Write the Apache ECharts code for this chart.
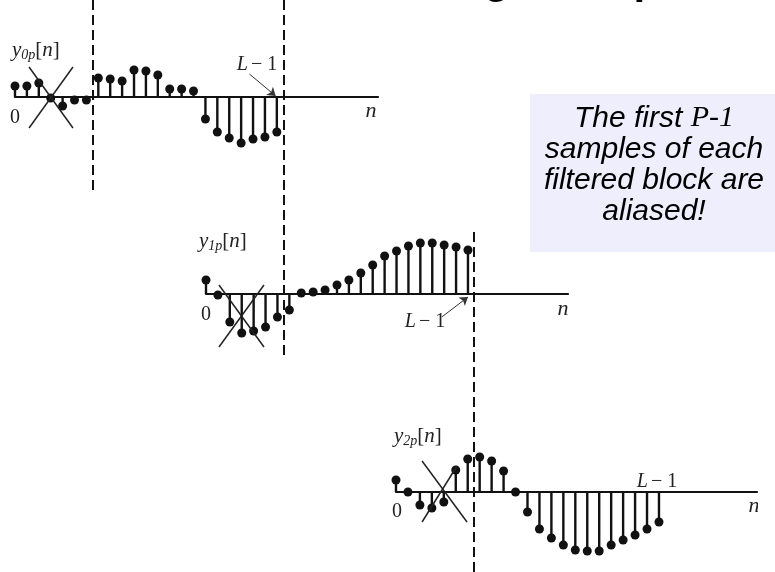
<!DOCTYPE html>
<html>
<head>
<meta charset="utf-8">
<script src="https://cdn.jsdelivr.net/npm/echarts@6/dist/echarts.min.js"></script>
<style>
  html, body { margin: 0; padding: 0; background: #ffffff; }
  #chart { width: 775px; height: 572px; }
</style>
</head>
<body>
<div id="chart"></div>
<script>
// Output blocks of overlap-save filtering, one stem plot per block (n = 0 .. L-1)
const block0 = [11, 11, 14, -1, -9, -3, -3, 19, 18, 16, 27, 26, 22, 8, 8, 6, -22, -35, -41, -46, -42, -40, -35];
const block1 = [14, -1, -28, -39, -37, -33, -23, -16, 1, 2, 4, 9, 14, 21, 29, 38, 43, 48, 51, 51, 49, 47, 44];
const block2 = [12, 0, -13, -16, -10, 22, 33, 35, 31, 21, 0, -20, -37, -46, -53, -58, -59, -59, -53, -48, -43, -37, -30];
const blockNames = ['0p', '1p', '2p'];
const boundaryN = 6.5;     // end of the aliased samples (P-1)

const ink = '#111111';
const serif = '"Liberation Serif", "DejaVu Serif", serif';
const sans = '"Liberation Sans", Arial, sans-serif';

// Layout of the three staggered panels (pixel space of the page)
const panels = [
  { data: block0, left: 15,  width: 363, axisY: 97,  nMax: 30.5, dash: [0, 190],
    cross: [[1.18, 30, 4.87, -31], [1.18, -31, 4.87, 30]], arrow: [19.7, 23, 21.9, 1] },
  { data: block1, left: 206, width: 362, axisY: 294, nMax: 30.4, dash: [0, 360],
    cross: [[1.09, 9, 4.87, -53], [4.87, 9, 1.09, -53]], arrow: [19.8, -23, 22, -3] },
  { data: block2, left: 396, width: 361, axisY: 492, nMax: 30.2, dash: [232, 572],
    cross: [[2.18, 31, 5.94, -30], [2.18, -30, 5.1, 26]], arrow: null }
];
const H = 572;

const grids = [], xAxes = [], yAxes = [], series = [];
panels.forEach((p, i) => {
  grids.push({ left: p.left, width: p.width, top: 0, height: H });
  xAxes.push({
    gridIndex: i, type: 'value', min: 0, max: p.nMax,
    axisLine: { show: true, onZero: true, lineStyle: { color: ink, width: 2.2 } },
    axisTick: { show: false }, axisLabel: { show: false }, splitLine: { show: false }
  });
  // y in pixel-sized units, zero on the panel's baseline
  yAxes.push({ gridIndex: i, type: 'value', min: -(H - p.axisY), max: p.axisY, show: false });

  const pts = p.data.map((v, n) => [n, v]);
  const lines = [
    [{ coord: [boundaryN, p.axisY - p.dash[0]] }, { coord: [boundaryN, p.axisY - p.dash[1]],
      lineStyle: { type: [10, 5], width: 2, color: ink } }]
  ];
  p.cross.forEach(c => {
    lines.push([{ coord: [c[0], c[1]] }, { coord: [c[2], c[3]], lineStyle: { type: 'solid', width: 1.5, color: '#222' } }]);
  });
  series.push({
    type: 'bar', xAxisIndex: i, yAxisIndex: i, data: pts, barWidth: 2.4,
    itemStyle: { color: ink }, silent: true,
    markLine: {
      silent: true, symbol: 'none', label: { show: false },
      lineStyle: { color: ink, width: 2, type: 'solid' },
      data: lines
    }
  });
  if (p.arrow) {
    series.push({
      type: 'scatter', xAxisIndex: i, yAxisIndex: i, data: [], silent: true,
      markLine: {
        silent: true, symbol: ['none', 'arrow'], symbolSize: 8, label: { show: false },
        lineStyle: { color: '#333', width: 1, type: 'solid' },
        data: [[{ coord: [p.arrow[0], p.arrow[1]] }, { coord: [p.arrow[2], p.arrow[3]] }]]
      }
    });
  }
  series.push({
    type: 'scatter', xAxisIndex: i, yAxisIndex: i, data: pts, symbolSize: 9,
    itemStyle: { color: ink, opacity: 1 }, silent: true, z: 3
  });
});

// Text annotations
const labelRich = {
  y: { fontFamily: serif, fontStyle: 'italic', fontSize: 21, fill: '#222' },
  sub: { fontFamily: serif, fontStyle: 'italic', fontSize: 14, fill: '#222', padding: [9, 0, 0, 0] },
  b: { fontFamily: serif, fontSize: 21, fill: '#222' },
  n: { fontFamily: serif, fontStyle: 'italic', fontSize: 21, fill: '#222' }
};
function seqLabel(name, x, y) {
  return { type: 'text', left: x, top: y, z: 10,
    style: { text: '{y|y}{sub|' + name + '}{b|[}{n|n}{b|]}', rich: labelRich } };
}
function plain(txt, x, y, italic, size) {
  return { type: 'text', x: x, y: y, z: 10,
    style: { text: txt, fontFamily: serif, fontStyle: italic ? 'italic' : 'normal',
      fontSize: size, fill: '#222', align: 'center', verticalAlign: 'middle' } };
}
function lMinusOne(x, y) {
  return { type: 'text', x: x, y: y, z: 10,
    style: { text: '{l|L} {b|\u2212 1}', align: 'center', verticalAlign: 'middle',
      rich: { l: { fontFamily: serif, fontStyle: 'italic', fontSize: 20, fill: '#222' },
              b: { fontFamily: serif, fontSize: 20, fill: '#222' } } } };
}

const graphic = [
  // slide heading, running off the top edge
  { type: 'text', x: 344, y: 2, z: 10,
    style: { text: 'Filtering Example', fontFamily: sans, fontWeight: 'bold', fontSize: 42, fill: '#000',
      verticalAlign: 'bottom' } },
  seqLabel(blockNames[0], 12, 40),
  seqLabel(blockNames[1], 199, 231),
  seqLabel(blockNames[2], 394, 426),
  plain('0', 15, 118, false, 20),
  plain('0', 206, 315, false, 20),
  plain('0', 397, 512, false, 20),
  plain('n', 371, 111, true, 22),
  plain('n', 563, 309, true, 22),
  plain('n', 754, 506, true, 22),
  lMinusOne(257, 65),
  lMinusOne(425, 322),
  lMinusOne(657, 482),
  // right edge of the figure
  { type: 'rect', shape: { x: 758, y: 485, width: 17, height: 40 }, style: { fill: '#fff' }, z: 11 },
  // note box
  { type: 'rect', shape: { x: 530, y: 94, width: 245, height: 158 }, style: { fill: '#EEEEFD' }, z: 12 },
  { type: 'text', x: 654, y: 165, z: 13,
    style: {
      text: '{i|The first }{s|P-1}\n{i|samples of each}\n{i|filtered block are}\n{i|aliased!}',
      align: 'center', verticalAlign: 'middle', lineHeight: 31,
      rich: {
        i: { fontFamily: sans, fontStyle: 'italic', fontSize: 30, fill: '#000', lineHeight: 31 },
        s: { fontFamily: serif, fontStyle: 'italic', fontSize: 30, fill: '#000', lineHeight: 31 }
      }
    } }
];

const chart = echarts.init(document.getElementById('chart'), null, { renderer: 'canvas' });
chart.setOption({
  animation: false,
  backgroundColor: '#ffffff',
  grid: grids, xAxis: xAxes, yAxis: yAxes, series: series, graphic: graphic
});
</script>
</body>
</html>
